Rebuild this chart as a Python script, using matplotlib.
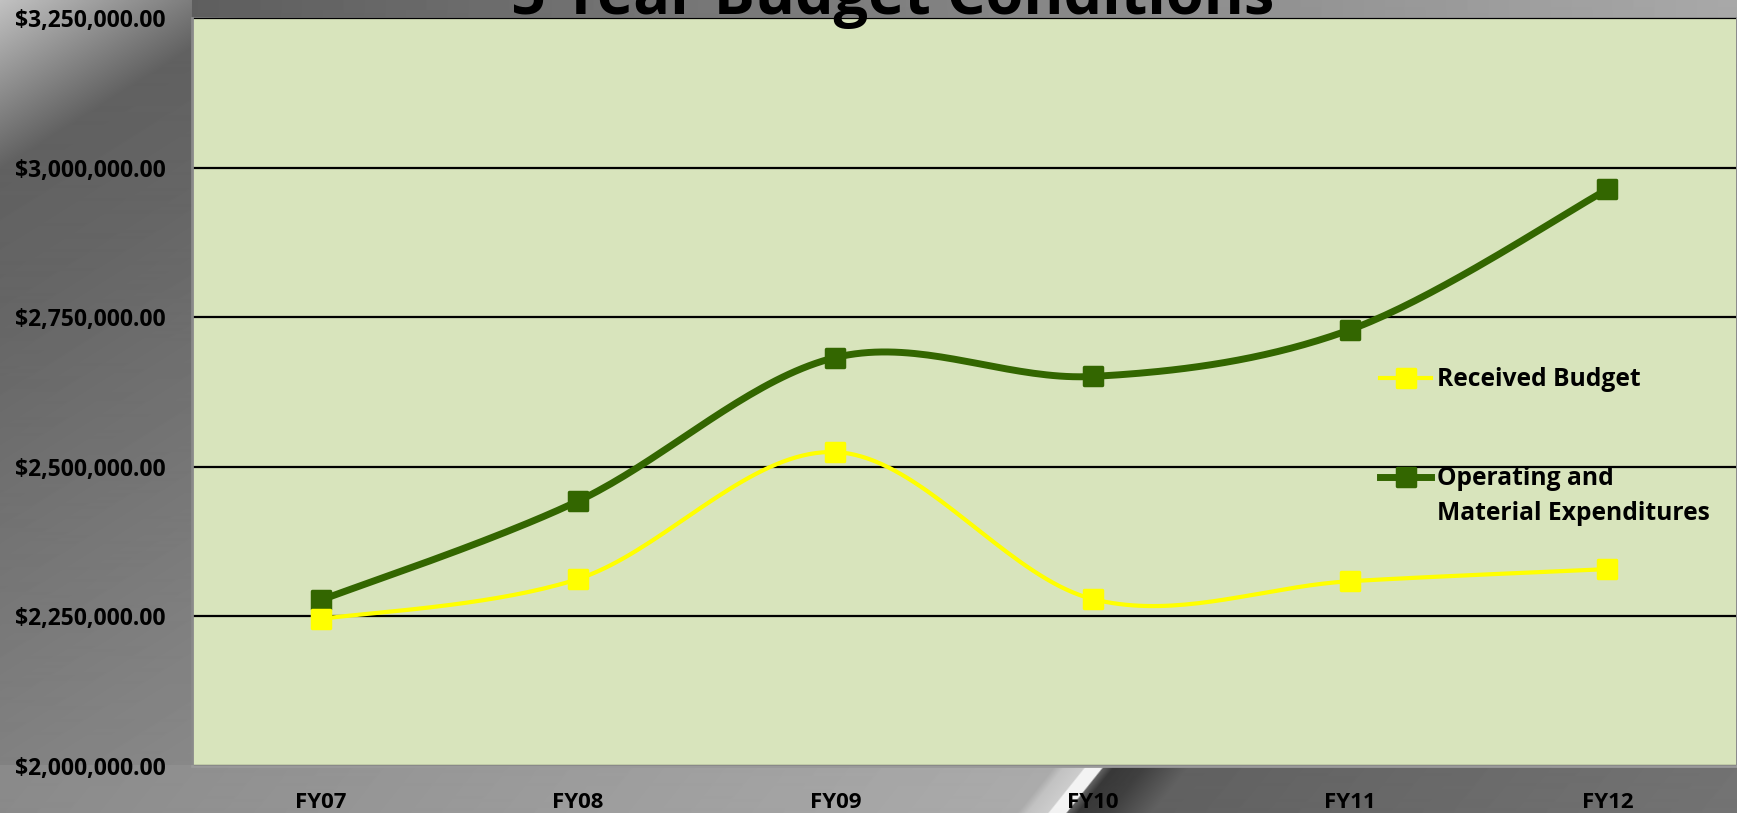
import numpy as np
import matplotlib
matplotlib.use('Agg')
import matplotlib.pyplot as plt
from matplotlib.lines import Line2D
from matplotlib.markers import MarkerStyle
from matplotlib.ticker import FuncFormatter

plt.rcParams['font.family'] = ['Open Sans', 'DejaVu Sans']
plt.rcParams['font.weight'] = 'bold'

# data
years = ['FY07', 'FY08', 'FY09', 'FY10', 'FY11', 'FY12']
received = [2245500, 2312500, 2524600, 2279000, 2308800, 2329000]
operating = [2277000, 2442700, 2682600, 2651000, 2729000, 2963500]
labels = ['Received Budget', 'Operating and\nMaterial Expenditures']
title = '5 Year Budget Conditions'

W, H = 1737, 813
fig = plt.figure(figsize=(W / 100, H / 100), dpi=100)

# background: grey gradient with a diagonal streak
yy, xx = np.mgrid[0:H, 0:W].astype(float)
s = xx * 0.63 + yy
bg = np.interp(s, [0, 170, 320, 950], [0.76, 0.38, 0.40, 0.55])
top = np.interp(xx, [192, 1737], [0.37, 0.66])
bg = np.where((yy < 18) & (xx >= 192), top, bg)
off = xx - (1075 - (yy - 790) * 0.8)
bot = np.interp(off, [-1075, -40, -30, -10, -8, 8, 10, 20, 50, 67, 95, 650],
                [0.54, 0.67, 0.76, 0.80, 0.95, 0.95, 0.38, 0.22, 0.25, 0.30, 0.38, 0.45])
bg = np.where(yy >= 765, bot, bg)
bgax = fig.add_axes([0, 0, 1, 1], zorder=-10)
bgax.imshow(bg, cmap='gray', vmin=0, vmax=1, aspect='auto', interpolation='bilinear')
bgax.axis('off')

ax = fig.add_axes([192 / W, (H - 766) / H, (1736 - 192) / W, (766 - 18) / H])
ax.set_facecolor('#D8E4BC')


def smooth(y, n=40):
    # Catmull-Rom style bezier, like Excel's smoothed line
    x = np.arange(len(y), dtype=float)
    p = np.column_stack([x, np.asarray(y, dtype=float)])
    pts = np.vstack([p[0], p, p[-1]])
    out = []
    t = np.linspace(0, 1, n)[:, None]
    for i in range(1, len(pts) - 2):
        p0, p1, p2, p3 = pts[i - 1], pts[i], pts[i + 1], pts[i + 2]
        c1 = p1 + (p2 - p0) / 6
        c2 = p2 - (p3 - p1) / 6
        seg = (1 - t) ** 3 * p1 + 3 * (1 - t) ** 2 * t * c1 + 3 * (1 - t) * t ** 2 * c2 + t ** 3 * p2
        out.append(seg)
    out = np.vstack(out)
    return out[:, 0], out[:, 1]


mk = MarkerStyle('s', joinstyle='round')
green = '#336600'
yellow = '#FFFF00'

xs, ys = smooth(operating)
ax.plot(xs, ys, color=green, lw=5, solid_capstyle='round', zorder=3)
ax.plot(range(len(years)), operating, ls='none', marker=mk, ms=13, mfc=green, mec=green, mew=2.5, zorder=4)
xs, ys = smooth(received)
ax.plot(xs, ys, color=yellow, lw=3, solid_capstyle='round', zorder=5)
ax.plot(range(len(years)), received, ls='none', marker=mk, ms=13, mfc=yellow, mec=yellow, mew=2.5, zorder=6)

ax.set_xlim(-0.5, len(years) - 0.5)
ax.set_ylim(2000000, 3250000)
ax.set_yticks(np.arange(2000000, 3250001, 250000))
ax.yaxis.set_major_formatter(FuncFormatter(lambda v, p: '${:,.2f}'.format(v)))
ax.set_xticks(range(len(years)))
ax.set_xticklabels(years)
ax.tick_params(axis='y', length=0, pad=19, labelsize=16.5)
ax.tick_params(axis='x', length=0, pad=19, labelsize=16)
ax.set_axisbelow(True)
ax.grid(axis='y', color='black', lw=1.6)
for sp in ['top', 'right']:
    ax.spines[sp].set_visible(False)
ax.spines['left'].set_color('#8a8a8a')
ax.spines['left'].set_linewidth(2)
ax.spines['bottom'].set_color('#9a9a9a')
ax.spines['bottom'].set_linewidth(2)

# legend drawn by hand so the marker sits on the first text line
for (yc, col, lw, lab) in [(378, yellow, 3, labels[0]), (477, green, 5, labels[1])]:
    fy = 1 - yc / H
    fig.add_artist(Line2D([1380 / W, 1406 / W, 1431 / W], [fy, fy, fy], transform=fig.transFigure,
                          color=col, lw=lw, marker=mk, ms=13, mfc=col, mec=col, mew=2.5, markevery=[1]))
    fig.text(1437 / W, fy + 11 / H, lab, fontsize=17.7, fontweight='bold', va='top', ha='left',
             linespacing=1.5)

fig.text(893 / W, 1 - 14 / H, title, fontsize=44, fontweight='bold', ha='center', va='baseline')

fig.savefig('out.png', dpi=100)
